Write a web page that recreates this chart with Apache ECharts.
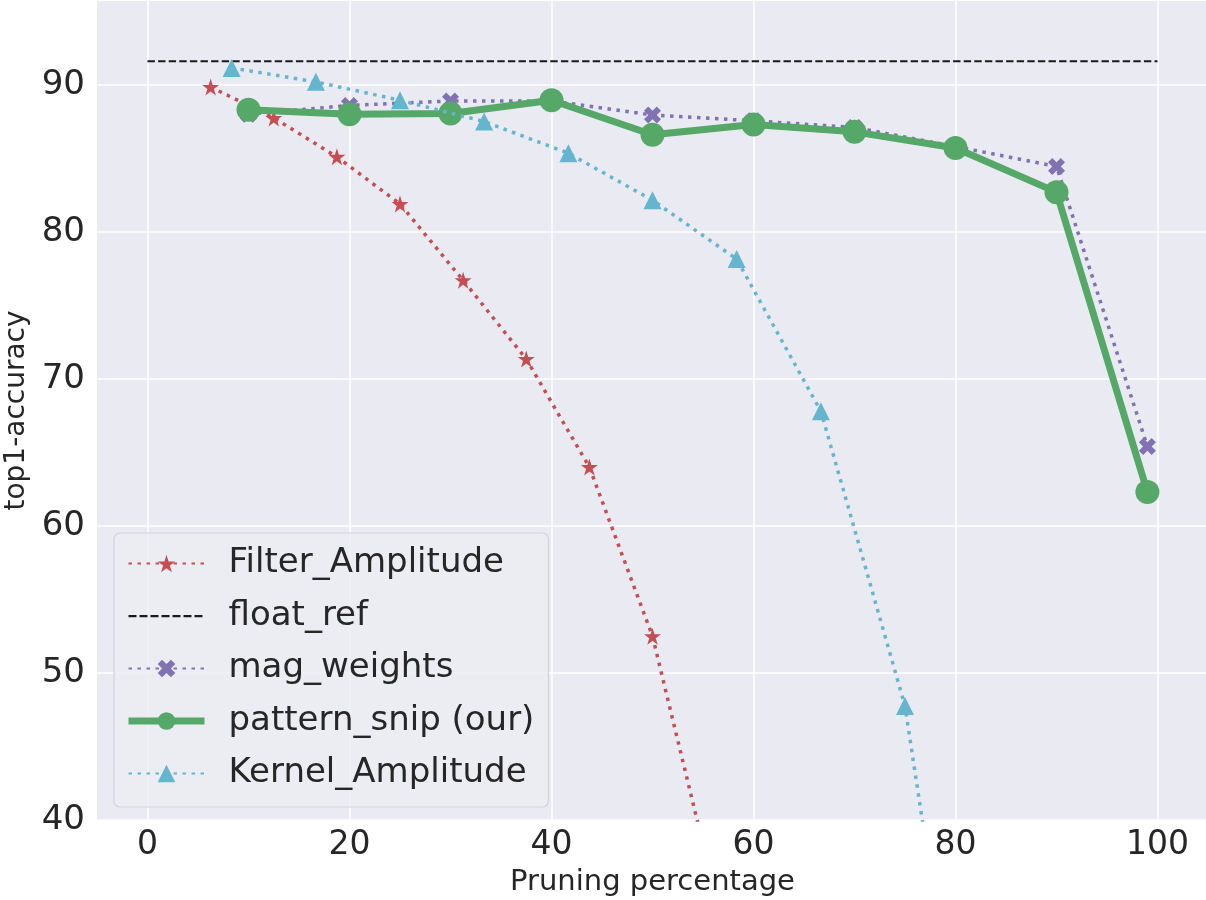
<!DOCTYPE html>
<html>
<head>
<meta charset="utf-8">
<script src="https://cdn.jsdelivr.net/npm/echarts@6/dist/echarts.min.js"></script>
<style>
  html, body { margin: 0; padding: 0; background: #fff; }
  #chart { width: 1206px; height: 900px; }
</style>
</head>
<body>
<div id="chart"></div>
<script>
// values
var filterX = [6.25, 12.5, 18.75, 25, 31.25, 37.5, 43.75, 50, 56.25];
var filterY = [89.85, 87.75, 85.1, 81.9, 76.7, 71.35, 64.0, 52.5, 34.8];

var floatRefX = [0, 100];
var floatRefY = [91.6, 91.6];

var magX = [10, 20, 30, 40, 50, 60, 70, 80, 90, 99];
var magY = [88.0, 88.6, 88.9, 88.9, 87.95, 87.55, 87.1, 85.8, 84.45, 65.4];

var snipX = [10, 20, 30, 40, 50, 60, 70, 80, 90, 99];
var snipY = [88.3, 88.0, 88.05, 88.95, 86.6, 87.3, 86.8, 85.7, 82.7, 62.3];

var kernelX = [8.33, 16.67, 25, 33.33, 41.67, 50, 58.33, 66.67, 75, 83.33];
var kernelY = [91.15, 90.2, 88.95, 87.5, 85.35, 82.15, 78.15, 67.8, 47.75, 10];

var xTicks = [0, 20, 40, 60, 80, 100];
var yTicks = [40, 50, 60, 70, 80, 90];

function pairs(xs, ys) {
  return xs.map(function (x, i) { return [x, ys[i]]; });
}

var font = 'DejaVu Sans, Verdana, sans-serif';
var starPath = 'path://M50,0 L61.2,34.5 L97.6,34.5 L68.2,55.9 L79.4,90.5 L50,69.1 L20.6,90.5 L31.8,55.9 L2.4,34.5 L38.8,34.5 Z';
var xPath = 'path://M0,3 L3,0 L6,3 L9,0 L12,3 L9,6 L12,9 L9,12 L6,9 L3,12 L0,9 L3,6 Z';
// dashed legend icon for the reference line
var dashIcon = 'path://M0,9 h8 v2.2 h-8 Z M11,9 h8 v2.2 h-8 Z M22,9 h8 v2.2 h-8 Z M33,9 h8 v2.2 h-8 Z M44,9 h8 v2.2 h-8 Z M55,9 h8 v2.2 h-8 Z M66,9 h8 v2.2 h-8 Z M0,0 h0.01 v0.01 Z M76,20 h0.01 v0.01 Z';

var chart = echarts.init(document.getElementById('chart'));

chart.setOption({
  animation: false,
  textStyle: { fontFamily: font },
  grid: {
    left: 97, top: 1, width: 1111, height: 819,
    outerBoundsMode: 'none', containLabel: false,
    show: true, backgroundColor: '#EAEAF2', borderWidth: 0
  },
  legend: {
    orient: 'vertical',
    left: 114, top: 533,
    padding: [13, 14, 16, 11],
    itemWidth: 76, itemHeight: 22, itemGap: 17.5,
    backgroundColor: 'rgba(236,236,243,0.85)',
    borderColor: '#d3d3da', borderWidth: 1.2, borderRadius: 6,
    textStyle: { fontSize: 34, color: '#262626', fontFamily: font, padding: [0, 0, 0, 19], lineHeight: 35 },
    data: [
      { name: 'Filter_Amplitude' },
      { name: 'float_ref', icon: dashIcon, itemStyle: { color: '#1a1a1a' } },
      { name: 'mag_weights' },
      { name: 'pattern_snip (our)', lineStyle: { width: 7 } },
      { name: 'Kernel_Amplitude' }
    ]
  },
  xAxis: {
    type: 'value', min: -5, max: 105,
    name: 'Pruning percentage', nameLocation: 'middle', nameGap: 48,
    nameTextStyle: { fontSize: 29, color: '#262626', fontFamily: font },
    axisLine: { show: false },
    axisTick: { show: false, customValues: xTicks },
    axisLabel: { customValues: xTicks, fontSize: 33, color: '#262626', margin: 9, fontFamily: font },
    splitLine: { show: true, lineStyle: { color: '#ffffff', width: 1.5 } }
  },
  yAxis: {
    type: 'value', min: 40, max: 95.7,
    name: 'top1-accuracy', nameLocation: 'middle', nameGap: 58,
    nameTextStyle: { fontSize: 28, color: '#262626', fontFamily: font },
    axisLine: { show: false },
    axisTick: { show: false, customValues: yTicks },
    axisLabel: { customValues: yTicks, fontSize: 34, color: '#262626', margin: 12, fontFamily: font },
    splitLine: { show: true, lineStyle: { color: '#ffffff', width: 1.5 } }
  },
  series: [
    {
      name: 'Filter_Amplitude', type: 'line', z: 3,
      data: pairs(filterX, filterY),
      symbol: starPath, symbolSize: 17,
      itemStyle: { color: '#C44E52' },
      lineStyle: { color: '#C44E52', width: 3.5, type: [3.5, 5.5], cap: 'butt' }
    },
    {
      name: 'float_ref', type: 'line', z: 2,
      data: pairs(floatRefX, floatRefY),
      symbol: 'none',
      itemStyle: { color: '#1a1a1a' },
      lineStyle: { color: '#1a1a1a', width: 2, type: [7.4, 3.2] }
    },
    {
      name: 'mag_weights', type: 'line', z: 4,
      data: pairs(magX, magY),
      symbol: xPath, symbolSize: 17,
      itemStyle: { color: '#8172B2' },
      lineStyle: { color: '#8172B2', width: 3.5, type: [3.5, 5.5], cap: 'butt' }
    },
    {
      name: 'pattern_snip (our)', type: 'line', z: 5,
      data: pairs(snipX, snipY),
      symbol: 'circle', symbolSize: 24,
      itemStyle: { color: '#55A868' },
      lineStyle: { color: '#55A868', width: 7 }
    },
    {
      name: 'Kernel_Amplitude', type: 'line', z: 6,
      data: pairs(kernelX, kernelY),
      symbol: 'triangle', symbolSize: 18,
      itemStyle: { color: '#64B5CD' },
      lineStyle: { color: '#64B5CD', width: 3.5, type: [3.5, 5.5], cap: 'butt' }
    }
  ]
});
</script>
</body>
</html>
